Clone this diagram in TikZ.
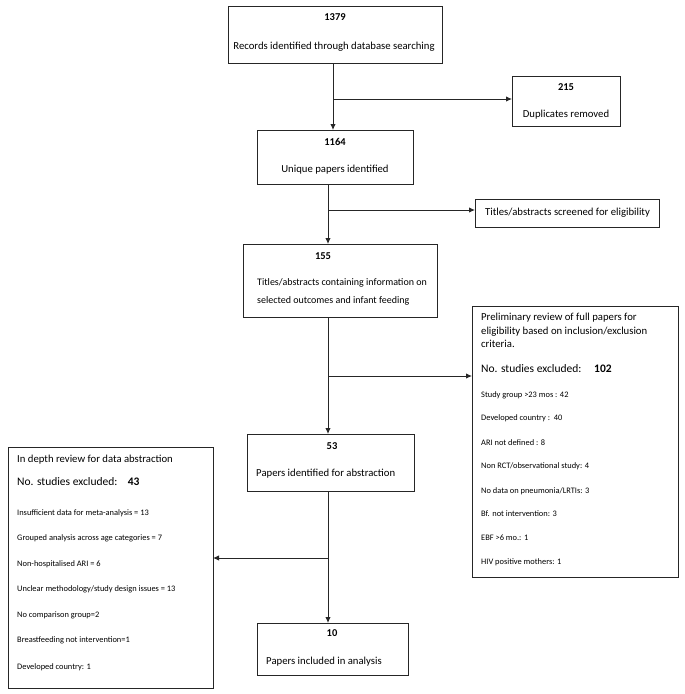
\documentclass[tikz,border=0pt]{standalone}
\usepackage{fontspec}
\setmainfont{Carlito}
\usetikzlibrary{arrows.meta}
\begin{document}
\begin{tikzpicture}[x=1pt,y=-1pt,
  box/.style={draw=black!85, line width=0.8pt, inner sep=0pt, outer sep=0pt, anchor=north west, fill=white},
  conn/.style={draw=black!85, line width=1pt},
  arr/.style={conn, -{Latex[length=6pt,width=5.5pt]}},
  txt/.style={inner sep=0pt, font=\fontsize{10.7}{12}\selectfont},
  sm/.style={inner sep=0pt, anchor=mid west, font=\fontsize{8.4}{10}\selectfont},
  big/.style={inner sep=0pt, anchor=mid west, font=\fontsize{11.5}{13}\selectfont},
  num/.style={inner sep=0pt, anchor=mid, font=\fontsize{10.5}{12}\selectfont\bfseries},
]
\useasboundingbox (0,0) rectangle (685,694);
% boxes
\node[box, minimum width=214pt, minimum height=57pt] (b1) at (228,6) {};
\node[box, minimum width=108pt, minimum height=50pt] (dup) at (512,76) {};
\node[box, minimum width=156pt, minimum height=54pt] (b2) at (257,130) {};
\node[box, minimum width=184pt, minimum height=28pt] (tit) at (475,199) {};
\node[box, minimum width=194pt, minimum height=73pt] (b3) at (243,244) {};
\node[box, minimum width=206pt, minimum height=271pt] (pre) at (472,306) {};
\node[box, minimum width=167pt, minimum height=57pt] (b4) at (247,434) {};
\node[box, minimum width=205pt, minimum height=241pt] (lft) at (8,447) {};
\node[box, minimum width=151pt, minimum height=52pt] (b5) at (257,623) {};
% junctions
\coordinate (j1) at (333,99);
\coordinate (j2) at (328,210);
\coordinate (j3) at (328,376);
\coordinate (j4) at (328,558);
% connectors
\draw[arr] (b1.south -| j1) -- (b2.north -| j1);
\draw[arr] (j1) -- (j1 -| dup.west);
\draw[arr] (b2.south -| j2) -- (b3.north -| j2);
\draw[arr] (j2) -- (j2 -| tit.west);
\draw[arr] (b3.south -| j3) -- (b4.north -| j3);
\draw[arr] (j3) -- (j3 -| pre.west);
\draw[arr] (b4.south -| j4) -- (b5.north -| j4);
\draw[arr] (j4) -- (j4 -| lft.east);
% texts
\node[num] (t1a) at (335,18) {1379};
\node[txt, anchor=mid] (t1b) at (334,47) {Records identified through database searching};
\node[num] (tda) at (566,88) {215};
\node[txt, anchor=mid] (tdb) at (566,115) {Duplicates removed};
\node[num] (t2a) at (335,143) {1164};
\node[txt, anchor=mid] (t2b) at (335,170) {Unique papers identified};
\node[txt, anchor=mid west] (tt) at (485,213) {Titles/abstracts screened for eligibility};
\node[num] (t3a) at (323,257) {155};
\node[txt, anchor=mid west, font=\fontsize{10}{12}\selectfont] (t3b) at (257,283) {Titles/abstracts containing information on};
\node[txt, anchor=mid west, font=\fontsize{10}{12}\selectfont] (t3c) at (257,301) {selected outcomes and infant feeding};
\node[num] (t4a) at (332,447) {53};
\node[txt, anchor=mid west] (t4b) at (256,474) {Papers identified for abstraction};
\node[num] (t5a) at (332,634) {10};
\node[txt, anchor=mid west] (t5b) at (266,662) {Papers included in analysis};
% preliminary review box
\node[txt, anchor=mid west] (p1) at (481,318) {Preliminary review of full papers for};
\node[txt, anchor=mid west] (p2) at (481,332) {eligibility based on inclusion/exclusion};
\node[txt, anchor=mid west] (p3) at (481,345) {criteria.};
\node[big] (p4) at (481,370) {No. studies excluded:\hspace{1.1em}\textbf{102}};
\node[sm] (p5) at (481,395) {Study group >23 mos : 42};
\node[sm] (p6) at (481,418) {Developed country :\ \ 40};
\node[sm] (p7) at (481,443) {ARI not defined : 8};
\node[sm] (p8) at (481,466) {Non RCT/observational study: 4};
\node[sm] (p9) at (481,491) {No data on pneumonia/LRTIs: 3};
\node[sm] (p10) at (481,514) {Bf. not intervention: 3};
\node[sm] (p11) at (481,538) {EBF >6 mo.: 1};
\node[sm] (p12) at (481,562) {HIV positive mothers: 1};
% in depth review box
\node[txt, anchor=mid west] (l1) at (17,460) {In depth review for data abstraction};
\node[big] (l2) at (17,483) {No. studies excluded:\hspace{0.9em}\textbf{43}};
\node[sm] (l3) at (17,513) {Insufficient data for meta-analysis = 13};
\node[sm] (l4) at (17,538) {Grouped analysis across age categories = 7};
\node[sm] (l5) at (17,564) {Non-hospitalised ARI = 6};
\node[sm] (l6) at (17,589) {Unclear methodology/study design issues = 13};
\node[sm] (l7) at (17,615) {No comparison group=2};
\node[sm] (l8) at (17,640) {Breastfeeding not intervention=1};
\node[sm] (l9) at (17,667) {Developed country: 1};
\end{tikzpicture}
\end{document}
